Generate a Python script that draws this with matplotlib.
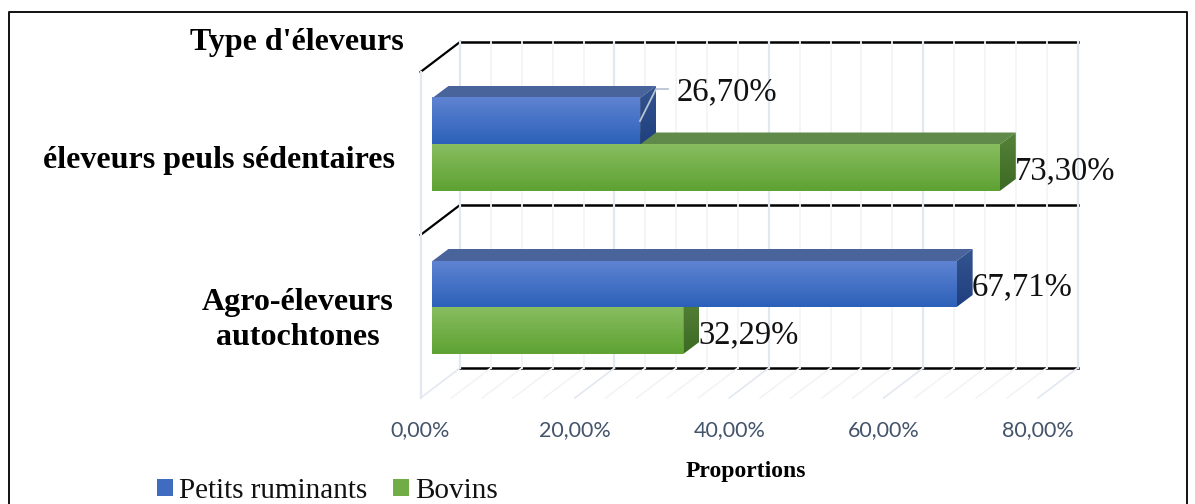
import numpy as np
import matplotlib
matplotlib.use('Agg')
import matplotlib.pyplot as plt
from matplotlib.colors import LinearSegmentedColormap
from matplotlib.lines import Line2D
from matplotlib.patches import Patch, Polygon

categories = ["éleveurs peuls sédentaires", "Agro-éleveurs\nautochtones"]
petits_ruminants = [26.70, 67.71]
bovins = [73.30, 32.29]
series_names = ["Petits ruminants", "Bovins"]
x_ticks = [0, 20, 40, 60, 80]
x_tick_labels = ["0,00%", "20,00%", "40,00%", "60,00%", "80,00%"]

W, H = 1195, 504
X0, X80 = 420.5, 1038.0
PX = (X80 - X0) / 80
FLOOR, TOP = 398, 72
DEPTH_X, DEPTH_Y = 39.5 / PX, -30
BAR_LEFT, BAR_SHIFT = 1.55, 1.75
BAR_DX, BAR_DY = 16 / PX, -12

SERIF = 'Liberation Serif'
BLUE = dict(front=('#5f83d2', '#2c61b9'), top='#49639b', side=('#34558f', '#1f3f7f'), flat='#3f6cc0')
GREEN = dict(front=('#88bd60', '#5ea232'), top='#5f8a49', side=('#568239', '#3d6a24'), flat='#70ad47')


def to_x(px):
    return (px - X0) / PX


def draw_bar(ax, value, y_top, y_bot, col, z):
    x0 = BAR_LEFT
    x1 = value + BAR_SHIFT
    # face du dessus et face laterale
    ax.add_patch(Polygon([(x0, y_top), (x0 + BAR_DX, y_top + BAR_DY), (x1 + BAR_DX, y_top + BAR_DY), (x1, y_top)],
                         facecolor=col['top'], edgecolor='none', clip_on=False, zorder=z))
    cmap = LinearSegmentedColormap.from_list('side', col['side'])
    grad = np.linspace(0, 1, 64).reshape(-1, 1)
    side = ax.imshow(grad, cmap=cmap, aspect='auto', extent=(x1, x1 + BAR_DX, y_bot, y_top + BAR_DY), zorder=z)
    side.set_clip_path(Polygon([(x1, y_top), (x1 + BAR_DX, y_top + BAR_DY), (x1 + BAR_DX, y_bot + BAR_DY), (x1, y_bot)],
                               transform=ax.transData))
    cmap = LinearSegmentedColormap.from_list('front', col['front'])
    ax.imshow(grad, cmap=cmap, aspect='auto', extent=(x0, x1, y_bot, y_top), zorder=z + 0.1, clip_on=False)


fig = plt.figure(figsize=(W / 100, H / 100), dpi=100, facecolor='white')
ax = fig.add_axes([X0 / W, 1 - FLOOR / H, (X80 - X0) / W, (FLOOR - TOP) / H])
ax.patch.set_alpha(0)
for s in ax.spines.values():
    s.set_visible(False)

# cadre autour de la figure
fig.add_artist(Line2D([8.5 / W, 8.5 / W, 1187 / W, 1187 / W], [0, 1 - 12 / H, 1 - 12 / H, 0],
                      color='#111111', lw=1.4))

# plans noirs du fond
back = DEPTH_X
for y in [TOP, 235]:
    ax.plot([0, DEPTH_X], [y, y + DEPTH_Y], color='black', lw=1.6, clip_on=False, zorder=1)
for y in [42, 205, 368]:
    ax.plot([back, back + 80], [y, y], color='black', lw=1.8, clip_on=False, zorder=1)

# quadrillage
for v in np.arange(0, 81, 4):
    major = v % 20 == 0
    col = '#e3e8f0' if major else '#f4f4f6'
    ax.plot([v + DEPTH_X, v + DEPTH_X], [42, 368], color=col, lw=1.6 if major else 1.3, clip_on=False, zorder=2)
    ax.plot([v, v + DEPTH_X], [FLOOR, 368], color=col, lw=1.2, clip_on=False, zorder=2)
ax.plot([0, 0], [TOP, FLOOR], color='#e3e8f0', lw=1.6, clip_on=False, zorder=2)

# barres
draw_bar(ax, bovins[0], 144.5, 191, GREEN, 3)
draw_bar(ax, petits_ruminants[0], 98, 144.5, BLUE, 4)
draw_bar(ax, bovins[1], 307, 354, GREEN, 3)
draw_bar(ax, petits_ruminants[1], 261, 307, BLUE, 4)

# etiquettes de valeurs
ax.plot([to_x(640), to_x(656), to_x(668)], [121, 89, 89], color='#b9c4d3', lw=1.3, clip_on=False, zorder=6)
labels = [(petits_ruminants[0], 677, 92), (bovins[0], 1015, 171), (petits_ruminants[1], 972, 287), (bovins[1], 698, 335)]
for value, px, py in labels:
    ax.text(to_x(px), py, f"{value:.2f}%".replace('.', ','), family=SERIF, fontsize=23.5, color='#111111',
            ha='left', va='center', clip_on=False, zorder=7)

# titres et categories
ax.text(to_x(190), 43, "Type d'éleveurs", family=SERIF, fontweight='bold', fontsize=23, color='black',
        ha='left', va='center')
ax.text(to_x(43), 161, categories[0], family=SERIF, fontweight='bold', fontsize=23, color='black',
        ha='left', va='center')
ax.text(to_x(298), 320, categories[1], family=SERIF, fontweight='bold', fontsize=23, color='black',
        ha='center', va='center', multialignment='center', linespacing=1.3)

ax.set_xlim(0, 80)
ax.set_ylim(FLOOR, TOP)
ax.set_yticks([])
ax.set_xticks(x_ticks)
ax.set_xticklabels(x_tick_labels, family='Lato', fontsize=15.5, color='#44546a')
ax.tick_params(axis='x', length=0, pad=16)
ax.set_xlabel("Proportions", family=SERIF, fontweight='bold', fontsize=17, color='black')
ax.xaxis.set_label_coords((746 - X0) / (X80 - X0), -(469 - FLOOR - 8) / (FLOOR - TOP))

handles = [Patch(facecolor=BLUE['flat']), Patch(facecolor=GREEN['flat'])]
fig.legend(handles, series_names, ncol=2, frameon=False, loc='lower left', bbox_to_anchor=(157 / W, 0),
           borderpad=0, borderaxespad=0, prop={'family': SERIF, 'size': 21}, labelcolor='#111111',
           handlelength=0.55, handleheight=0.55, handletextpad=0.2, columnspacing=0.9)

fig.savefig('out.png', dpi=100)
plt.close(fig)
